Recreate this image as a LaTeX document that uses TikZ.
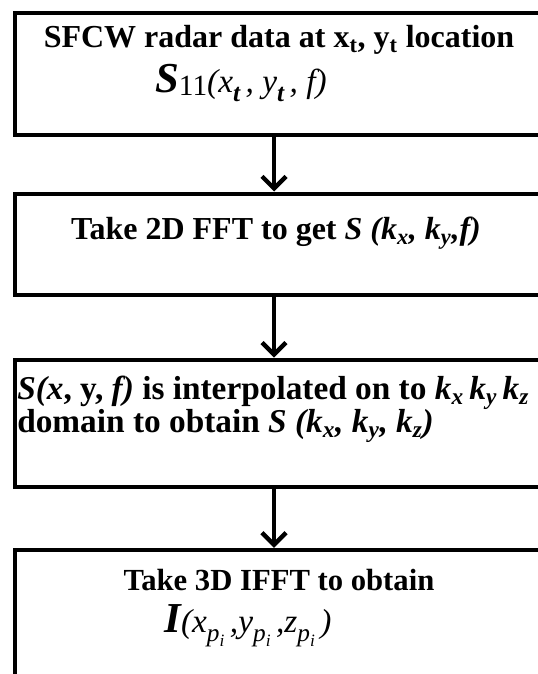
\documentclass[tikz,border=0pt]{standalone}
\usepackage{fontspec}
\setmainfont{Liberation Serif}
\usetikzlibrary{arrows.meta}

\begin{document}
\begin{tikzpicture}[x=0.75pt, y=-0.75pt, >={Straight Barb[length=9pt, width=18pt]},
    box/.style={draw, line width=3pt, anchor=north west, minimum width=420pt, inner sep=0pt},
    flow/.style={->, line width=3.3pt},
    label/.style={inner sep=0pt, font=\bfseries\fontsize{24}{28}\selectfont}]

  \useasboundingbox (0,0) rectangle (538,674);
  \clip (0,0) rectangle (538,674);

  % Draw the four steps as boxes (running off the right edge)
  \node[box, minimum height=91.5pt] (b1) at (13,11) {};
  \node[box, minimum height=75.75pt] (b2) at (13,191.5) {};
  \node[box, minimum height=95.7pt] (b3) at (13,357.7) {};
  \node[box, minimum height=110pt] (b4) at (13,547.8) {};

  % Texts in the boxes
  \node[label] (s1) at (279,40)
    {SFCW radar data at x\textsubscript{t}, y\textsubscript{t} location};
  \node[inner sep=0pt, font=\itshape\fontsize{25}{28}\selectfont] (e1) at (241,83)
    {{\bfseries\fontsize{32}{34}\selectfont S}\raisebox{-0.15ex}{\upshape\fontsize{22}{24}\selectfont 11}(x\raisebox{-0.55ex}{\bfseries\fontsize{19}{20}\selectfont t}\,, y\raisebox{-0.55ex}{\bfseries\fontsize{19}{20}\selectfont t}\,, f)};
  \node[label] (s2) at (276,233)
    {Take 2D FFT to get \textit{S (k\textsubscript{x}, k\textsubscript{y},f)}};
  \node[label, anchor=west, font=\bfseries\fontsize{25}{29}\selectfont] (s3a) at (17,393)
    {\textit{S(x}, y, \textit{f)} is interpolated on to \textit{k\textsubscript{x}\,k\textsubscript{y}\,k\textsubscript{z}}};
  \node[label, anchor=west, font=\bfseries\fontsize{25}{29}\selectfont] (s3b) at (17,426)
    {domain to obtain \textit{S (k\textsubscript{x}, k\textsubscript{y}, k\textsubscript{z})}};
  \node[label, font=\bfseries\fontsize{23}{28}\selectfont] (s4) at (279,580) {Take 3D IFFT to obtain};
  \node[inner sep=0pt, font=\itshape\fontsize{25}{28}\selectfont] (e4) at (248,626)
    {{\bfseries\fontsize{32}{34}\selectfont I}(x\raisebox{-0.6ex}{\fontsize{19}{20}\selectfont p\raisebox{-0.4ex}{\fontsize{13}{14}\selectfont i}}\,,y\raisebox{-0.6ex}{\fontsize{19}{20}\selectfont p\raisebox{-0.4ex}{\fontsize{13}{14}\selectfont i}}\,,z\raisebox{-0.6ex}{\fontsize{19}{20}\selectfont p\raisebox{-0.4ex}{\fontsize{13}{14}\selectfont i}}\,)};

  % Arrows between the steps
  \coordinate (ax) at (274,0);
  \draw[flow] (b1.south -| ax) -- (b2.north -| ax);
  \draw[flow] (b2.south -| ax) -- (b3.north -| ax);
  \draw[flow] (b3.south -| ax) -- (b4.north -| ax);

\end{tikzpicture}
\end{document}
